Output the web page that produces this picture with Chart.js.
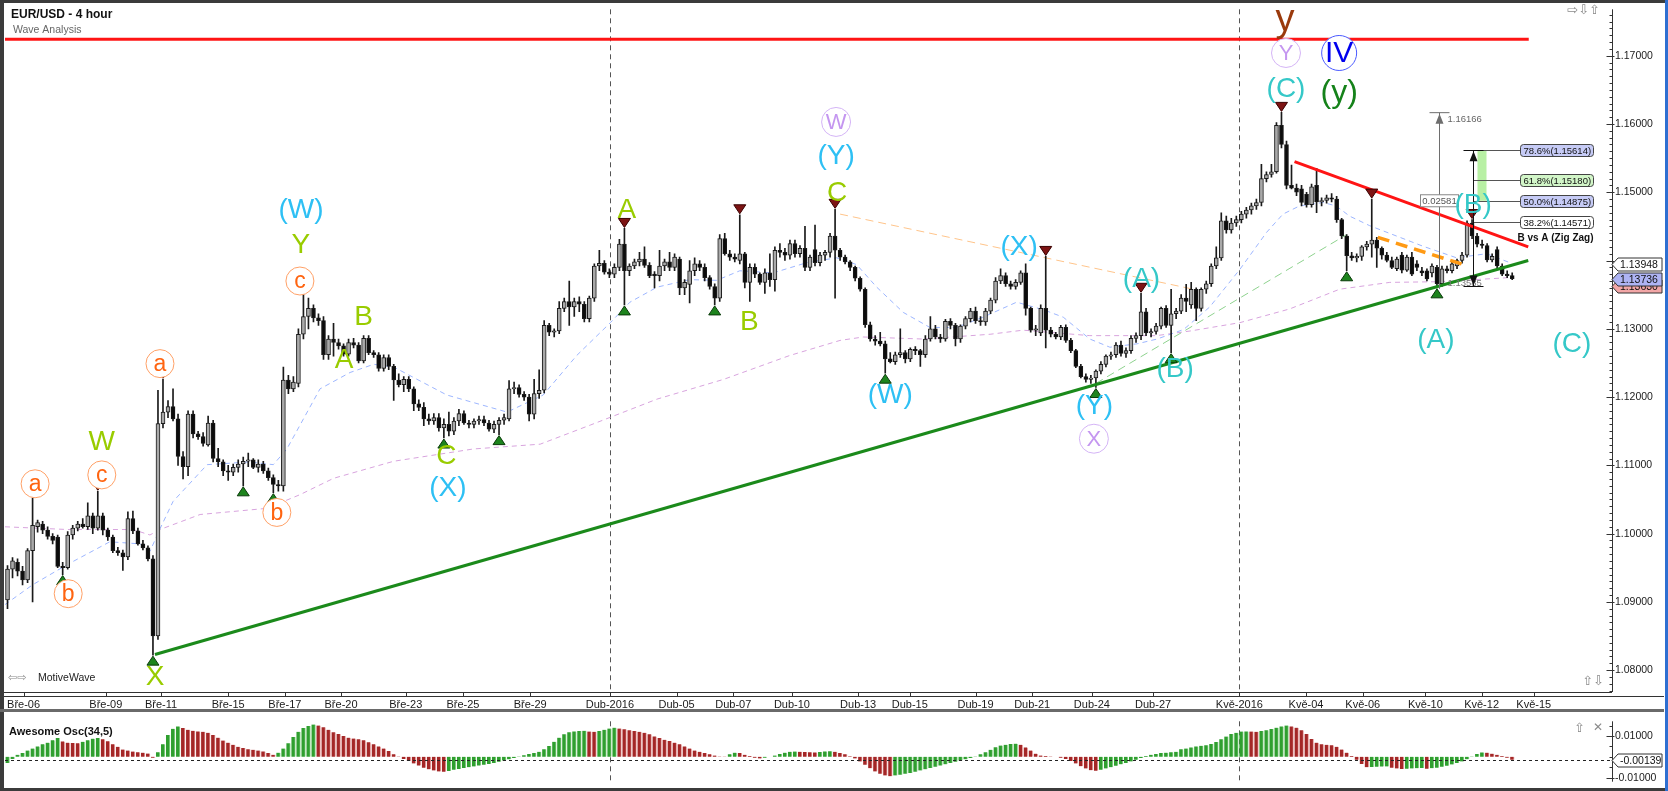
<!DOCTYPE html>
<html>
<head>
<meta charset="utf-8">
<title>EUR/USD - 4 hour</title>
<script src="https://cdn.jsdelivr.net/npm/chart.js@4.4.1/dist/chart.umd.min.js"></script>
<style>
  html, body { margin: 0; padding: 0; background: #fff; }
  #frame { position: relative; width: 1668px; height: 791px; overflow: hidden; background: #fff; }
  canvas { position: absolute; left: 0; }
  #main { top: 0; }
  #osc { top: 712px; }
  .edge { position: absolute; }
</style>
</head>
<body>
<div id="frame">
  <canvas id="main" width="1664" height="712"></canvas>
  <canvas id="osc" width="1664" height="79"></canvas>
  <div class="edge" style="left:0;top:0;width:1668px;height:3px;background:#3b3b3b"></div>
  <div class="edge" style="left:0;top:0;width:4px;height:791px;background:#3b3b3b"></div>
  <div class="edge" style="left:0;top:788px;width:1668px;height:3px;background:#3b3b3b"></div>
  <div class="edge" style="left:1665px;top:0;width:3px;height:791px;background:#2e6fd1"></div>
  <div class="edge" style="left:0;top:709px;width:1664px;height:3px;background:#6a6a6a"></div>
</div>
<script>
const FONT = '"Liberation Sans", Arial, sans-serif'
Chart.defaults.font.family = FONT
Chart.defaults.animation = false
Chart.defaults.events = []

// ---------- axis labels

const dateLabels = ['Bře-06', 'Bře-09', 'Bře-11', 'Bře-15', 'Bře-17', 'Bře-20', 'Bře-23', 'Bře-25', 'Bře-29',
  'Dub-2016', 'Dub-05', 'Dub-07', 'Dub-10', 'Dub-13', 'Dub-15', 'Dub-19', 'Dub-21', 'Dub-24', 'Dub-27',
  'Kvě-2016', 'Kvě-04', 'Kvě-06', 'Kvě-10', 'Kvě-12', 'Kvě-15']
// bar index where each label sits (4h bars)
const dateIdx = [3.2, 19.6, 30.6, 44.0, 55.3, 66.5, 79.4, 90.8, 104.2,
  120.1, 133.4, 144.7, 156.4, 169.6, 179.9, 193.0, 204.3, 216.2, 228.4,
  245.6, 258.9, 270.2, 282.7, 293.9, 304.3]
// 1.14000 sits under the value tags, so it is not listed
const priceTicks = [1.08, 1.09, 1.10, 1.11, 1.12, 1.13, 1.15, 1.16, 1.17]
const aoTicks = [-0.01, 0.01]

// ---------- candles [open, high, low, close]

const ohlc = [
  // 0
  [1.0903,1.0953,1.0890,1.0948],[1.0948,1.0965,1.0935,1.0960],[1.0958,1.0963,1.0938,1.0945],[1.0945,1.0952,1.0925,1.0932],[1.0932,1.0978,1.0928,1.0975],
  [1.0975,1.1052,1.0900,1.1012],[1.1010,1.1020,1.1002,1.1016],[1.1014,1.1018,1.1000,1.1005],[1.1005,1.1010,1.0992,1.0996],[1.0996,1.1000,1.0985,1.0990],
  // 10
  [1.0995,1.0998,1.0950,1.0952],[1.0952,1.0958,1.0940,1.0950],[1.0950,1.1003,1.0948,1.0998],[1.0998,1.1012,1.0992,1.1008],[1.1008,1.1018,1.1004,1.1014],
  [1.1014,1.1022,1.1008,1.1010],[1.1010,1.1045,1.1006,1.1026],[1.1026,1.1030,1.1000,1.1008],[1.1008,1.1062,1.1005,1.1026],[1.1026,1.1030,1.0998,1.1005],
  // 20
  [1.1005,1.1008,1.0990,1.0995],[1.0995,1.0998,1.0972,1.0975],[1.0975,1.0980,1.0968,1.0972],[1.0972,1.0976,1.0946,1.0966],[1.0966,1.1032,1.0962,1.1022],
  [1.1022,1.1033,1.1000,1.1004],[1.1004,1.1008,1.0983,1.0985],[1.0985,1.0990,1.0976,1.0979],[1.0979,1.0982,1.0960,1.0963],[1.0963,1.0968,1.0822,1.0850],
  // 30
  [1.0850,1.1210,1.0845,1.1161],[1.1161,1.1226,1.1155,1.1178],[1.1178,1.1195,1.1170,1.1186],[1.1186,1.1212,1.1165,1.1168],[1.1168,1.1175,1.1100,1.1113],
  [1.1113,1.1120,1.1080,1.1098],[1.1098,1.1180,1.1085,1.1175],[1.1175,1.1180,1.1140,1.1146],[1.1146,1.1150,1.1138,1.1142],[1.1142,1.1148,1.1128,1.1132],
  // 40
  [1.1130,1.1172,1.1128,1.1162],[1.1162,1.1166,1.1105,1.1110],[1.1110,1.1125,1.1098,1.1105],[1.1105,1.1108,1.1085,1.1092],[1.1092,1.1100,1.1078,1.1090],
  [1.1090,1.1102,1.1085,1.1097],[1.1097,1.1108,1.1090,1.1102],[1.1102,1.1112,1.1070,1.1106],[1.1106,1.1118,1.1098,1.1108],[1.1108,1.1110,1.1095,1.1097],
  // 50
  [1.1097,1.1108,1.1090,1.1102],[1.1102,1.1106,1.1088,1.1092],[1.1092,1.1096,1.1078,1.1082],[1.1082,1.1086,1.1060,1.1072],[1.1072,1.1078,1.1062,1.1070],
  [1.1070,1.1244,1.1062,1.1225],[1.1225,1.1232,1.1205,1.1212],[1.1212,1.1230,1.1208,1.1222],[1.1220,1.1300,1.1215,1.1292],[1.1292,1.1356,1.1285,1.1318],
  // 60
  [1.1318,1.1345,1.1300,1.1330],[1.1330,1.1335,1.1310,1.1316],[1.1316,1.1322,1.1305,1.1312],[1.1312,1.1318,1.1255,1.1262],[1.1262,1.1290,1.1255,1.1285],
  [1.1285,1.1308,1.1260,1.1280],[1.1280,1.1285,1.1270,1.1275],[1.1275,1.1278,1.1260,1.1263],[1.1263,1.1285,1.1260,1.1280],[1.1280,1.1286,1.1272,1.1276],
  // 70
  [1.1276,1.1280,1.1250,1.1253],[1.1253,1.1290,1.1250,1.1286],[1.1286,1.1290,1.1262,1.1265],[1.1265,1.1268,1.1258,1.1262],[1.1262,1.1265,1.1238,1.1242],
  [1.1242,1.1262,1.1238,1.1258],[1.1258,1.1262,1.1240,1.1245],[1.1245,1.1248,1.1195,1.1225],[1.1225,1.1234,1.1215,1.1218],[1.1218,1.1230,1.1208,1.1226],
  // 80
  [1.1226,1.1230,1.1208,1.1212],[1.1212,1.1215,1.1180,1.1190],[1.1190,1.1196,1.1180,1.1185],[1.1185,1.1192,1.1158,1.1168],[1.1168,1.1175,1.1160,1.1165],
  [1.1165,1.1176,1.1160,1.1170],[1.1170,1.1176,1.1150,1.1155],[1.1155,1.1168,1.1140,1.1160],[1.1160,1.1178,1.1143,1.1150],[1.1150,1.1170,1.1145,1.1165],
  // 90
  [1.1165,1.1182,1.1158,1.1176],[1.1176,1.1180,1.1160,1.1162],[1.1162,1.1166,1.1155,1.1160],[1.1160,1.1168,1.1155,1.1165],[1.1165,1.1172,1.1160,1.1167],
  [1.1167,1.1172,1.1158,1.1162],[1.1162,1.1166,1.1150,1.1153],[1.1153,1.1165,1.1148,1.1160],[1.1160,1.1170,1.1145,1.1166],[1.1166,1.1175,1.1160,1.1170],
  // 100
  [1.1168,1.1224,1.1165,1.1212],[1.1212,1.1222,1.1205,1.1214],[1.1214,1.1218,1.1200,1.1204],[1.1204,1.1208,1.1195,1.1200],[1.1200,1.1204,1.1165,1.1175],
  [1.1175,1.1226,1.1168,1.1205],[1.1205,1.1240,1.1198,1.1210],[1.1210,1.1312,1.1206,1.1305],[1.1305,1.1308,1.1290,1.1295],[1.1295,1.1300,1.1288,1.1297],
  // 110
  [1.1297,1.1340,1.1293,1.1330],[1.1330,1.1345,1.1325,1.1340],[1.1340,1.1370,1.1305,1.1332],[1.1332,1.1345,1.1318,1.1340],[1.1340,1.1347,1.1325,1.1336],
  [1.1336,1.1340,1.1310,1.1315],[1.1315,1.1348,1.1310,1.1345],[1.1345,1.1395,1.1340,1.1392],[1.1392,1.1415,1.1385,1.1396],[1.1396,1.1400,1.1380,1.1383],
  // 120
  [1.1383,1.1388,1.1375,1.1380],[1.1380,1.1395,1.1375,1.1390],[1.1390,1.1431,1.1385,1.1424],[1.1424,1.1447,1.1335,1.1385],[1.1385,1.1395,1.1378,1.1392],
  [1.1392,1.1402,1.1388,1.1398],[1.1398,1.1412,1.1392,1.1402],[1.1402,1.1420,1.1390,1.1393],[1.1393,1.1397,1.1375,1.1378],[1.1380,1.1384,1.1360,1.1378],
  // 130
  [1.1378,1.1415,1.1370,1.1392],[1.1392,1.1402,1.1385,1.1398],[1.1398,1.1412,1.1385,1.1390],[1.1390,1.1410,1.1385,1.1405],[1.1402,1.1405,1.1350,1.1360],
  [1.1360,1.1372,1.1350,1.1368],[1.1365,1.1400,1.1338,1.1385],[1.1385,1.1404,1.1378,1.1395],[1.1395,1.1400,1.1385,1.1390],[1.1390,1.1395,1.1370,1.1375],
  // 140
  [1.1375,1.1378,1.1358,1.1362],[1.1362,1.1366,1.1335,1.1345],[1.1345,1.1438,1.1340,1.1432],[1.1432,1.1440,1.1408,1.1410],[1.1410,1.1415,1.1400,1.1405],
  [1.1405,1.1410,1.1398,1.1402],[1.1400,1.1467,1.1395,1.1410],[1.1410,1.1412,1.1360,1.1368],[1.1368,1.1395,1.1340,1.1390],[1.1390,1.1395,1.1375,1.1380],
  // 150
  [1.1380,1.1382,1.1365,1.1368],[1.1368,1.1388,1.1352,1.1382],[1.1382,1.1410,1.1362,1.1372],[1.1372,1.1420,1.1355,1.1415],[1.1415,1.1425,1.1405,1.1412],
  [1.1412,1.1418,1.1400,1.1408],[1.1408,1.1430,1.1402,1.1425],[1.1425,1.1430,1.1405,1.1410],[1.1410,1.1422,1.1405,1.1418],[1.1418,1.1450,1.1385,1.1390],
  // 160
  [1.1390,1.1408,1.1385,1.1405],[1.1416,1.1452,1.1392,1.1397],[1.1397,1.1412,1.1392,1.1408],[1.1408,1.1415,1.1400,1.1412],[1.1412,1.1440,1.1405,1.1436],
  [1.1436,1.1475,1.1345,1.1415],[1.1415,1.1418,1.1400,1.1405],[1.1405,1.1408,1.1395,1.1398],[1.1398,1.1400,1.1385,1.1390],[1.1390,1.1392,1.1370,1.1374],
  // 170
  [1.1374,1.1376,1.1355,1.1358],[1.1358,1.1360,1.1302,1.1306],[1.1306,1.1310,1.1282,1.1285],[1.1285,1.1290,1.1276,1.1282],[1.1282,1.1295,1.1275,1.1278],
  [1.1278,1.1282,1.1235,1.1256],[1.1256,1.1265,1.1250,1.1252],[1.1252,1.1266,1.1248,1.1262],[1.1262,1.1300,1.1258,1.1265],[1.1265,1.1268,1.1250,1.1256],
  // 180
  [1.1256,1.1272,1.1252,1.1270],[1.1270,1.1274,1.1262,1.1268],[1.1268,1.1270,1.1245,1.1262],[1.1262,1.1290,1.1258,1.1285],[1.1285,1.1318,1.1282,1.1300],
  [1.1300,1.1305,1.1285,1.1288],[1.1288,1.1292,1.1280,1.1285],[1.1285,1.1314,1.1282,1.1311],[1.1311,1.1315,1.1300,1.1305],[1.1305,1.1308,1.1275,1.1285],
  // 190
  [1.1285,1.1306,1.1280,1.1304],[1.1304,1.1318,1.1300,1.1315],[1.1315,1.1330,1.1310,1.1326],[1.1326,1.1332,1.1308,1.1312],[1.1312,1.1318,1.1305,1.1310],
  [1.1310,1.1330,1.1305,1.1326],[1.1326,1.1345,1.1322,1.1342],[1.1342,1.1375,1.1338,1.1370],[1.1370,1.1388,1.1366,1.1378],[1.1378,1.1382,1.1362,1.1366],
  // 200
  [1.1366,1.1370,1.1358,1.1362],[1.1362,1.1372,1.1358,1.1368],[1.1368,1.1385,1.1365,1.1382],[1.1382,1.1395,1.1320,1.1330],[1.1330,1.1332,1.1295,1.1298],
  [1.1298,1.1305,1.1290,1.1300],[1.1294,1.1335,1.1290,1.1330],[1.1330,1.1406,1.1272,1.1298],[1.1298,1.1302,1.1288,1.1292],[1.1292,1.1295,1.1285,1.1288],
  // 210
  [1.1288,1.1305,1.1284,1.1302],[1.1302,1.1306,1.1280,1.1283],[1.1283,1.1286,1.1265,1.1268],[1.1268,1.1270,1.1243,1.1245],[1.1245,1.1248,1.1228,1.1230],
  [1.1230,1.1234,1.1222,1.1226],[1.1226,1.1232,1.1220,1.1228],[1.1228,1.1240,1.1214,1.1238],[1.1238,1.1252,1.1234,1.1248],[1.1248,1.1262,1.1244,1.1260],
  // 220
  [1.1260,1.1266,1.1255,1.1262],[1.1262,1.1280,1.1258,1.1276],[1.1276,1.1282,1.1260,1.1264],[1.1264,1.1272,1.1258,1.1268],[1.1268,1.1290,1.1264,1.1286],
  [1.1286,1.1294,1.1280,1.1290],[1.1290,1.1352,1.1284,1.1325],[1.1325,1.1330,1.1290,1.1294],[1.1294,1.1300,1.1288,1.1296],[1.1296,1.1308,1.1292,1.1304],
  // 230
  [1.1304,1.1332,1.1300,1.1330],[1.1330,1.1334,1.1302,1.1305],[1.1305,1.1358,1.1265,1.1322],[1.1322,1.1330,1.1315,1.1326],[1.1326,1.1350,1.1322,1.1345],
  [1.1345,1.1365,1.1325,1.1340],[1.1335,1.1368,1.1330,1.1358],[1.1358,1.1360,1.1312,1.1330],[1.1330,1.1360,1.1326,1.1358],[1.1358,1.1370,1.1352,1.1366],
  // 240
  [1.1366,1.1395,1.1362,1.1392],[1.1392,1.1420,1.1388,1.1404],[1.1404,1.1470,1.1400,1.1458],[1.1458,1.1465,1.1440,1.1445],[1.1445,1.1462,1.1440,1.1455],
  [1.1455,1.1465,1.1450,1.1460],[1.1460,1.1472,1.1455,1.1468],[1.1468,1.1478,1.1462,1.1474],[1.1474,1.1484,1.1468,1.1480],[1.1480,1.1490,1.1475,1.1485],
  // 250
  [1.1485,1.1541,1.1480,1.1520],[1.1520,1.1530,1.1515,1.1526],[1.1526,1.1541,1.1522,1.1530],[1.1530,1.1602,1.1528,1.1598],[1.1598,1.1617,1.1565,1.1570],
  [1.1570,1.1575,1.1505,1.1510],[1.1510,1.1540,1.1505,1.1506],[1.1506,1.1512,1.1495,1.1500],[1.1505,1.1510,1.1480,1.1485],[1.1497,1.1500,1.1478,1.1482],
  // 260
  [1.1482,1.1512,1.1478,1.1508],[1.1510,1.1535,1.1470,1.1486],[1.1486,1.1492,1.1480,1.1488],[1.1488,1.1496,1.1484,1.1492],[1.1492,1.1498,1.1486,1.1490],
  [1.1490,1.1494,1.1456,1.1460],[1.1460,1.1462,1.1432,1.1436],[1.1436,1.1438,1.1385,1.1407],[1.1407,1.1412,1.1400,1.1404],[1.1404,1.1410,1.1398,1.1406],
  // 270
  [1.1406,1.1422,1.1400,1.1420],[1.1420,1.1428,1.1415,1.1424],[1.1424,1.1490,1.1405,1.1430],[1.1430,1.1434,1.1390,1.1418],[1.1418,1.1420,1.1402,1.1408],
  [1.1408,1.1412,1.1398,1.1400],[1.1400,1.1405,1.1388,1.1390],[1.1388,1.1405,1.1385,1.1402],[1.1408,1.1412,1.1382,1.1386],[1.1386,1.1408,1.1384,1.1405],
  // 280
  [1.1405,1.1412,1.1378,1.1380],[1.1395,1.1400,1.1385,1.1390],[1.1385,1.1390,1.1378,1.1382],[1.1385,1.1388,1.1370,1.1373],[1.1382,1.1395,1.1376,1.1392],
  [1.1390,1.1393,1.1360,1.1366],[1.1366,1.1392,1.1362,1.1388],[1.1388,1.1392,1.1382,1.1385],[1.1385,1.1398,1.1382,1.1395],[1.1392,1.1402,1.1388,1.1400],
  // 290
  [1.1400,1.1412,1.1396,1.1408],[1.1408,1.1458,1.1405,1.1455],[1.1455,1.1460,1.1432,1.1436],[1.1436,1.1440,1.1420,1.1424],[1.1424,1.1430,1.1418,1.1422],
  [1.1422,1.1425,1.1398,1.1401],[1.1401,1.1410,1.1398,1.1406],[1.1416,1.1420,1.1388,1.1392],[1.1392,1.1395,1.1378,1.1380],[1.1380,1.1385,1.1375,1.1378],
  [1.1378,1.1382,1.1372,1.13736]
]

// Awesome Oscillator (34,5), one value per candle
const ao = [
  -0.0030, -0.0010, 0.0010, 0.0018, 0.0030, 0.0040, 0.0050, 0.0060, 0.0068, 0.0080,
  0.0090, 0.0074, 0.0068, 0.0066, 0.0065, 0.0072, 0.0080, 0.0087, 0.0090, 0.0084,
  0.0075, 0.0060, 0.0048, 0.0035, 0.0030, 0.0025, 0.0022, 0.0020, 0.0016, -0.0005,
  0.0022, 0.0060, 0.0105, 0.0135, 0.0146, 0.0138, 0.0130, 0.0125, 0.0122, 0.0120,
  0.0115, 0.0105, 0.0092, 0.0078, 0.0068, 0.0058, 0.0048, 0.0042, 0.0036, 0.0034,
  0.0030, 0.0026, 0.0018, 0.0010, 0.0020, 0.0040, 0.0065, 0.0095, 0.0120, 0.0138,
  0.0148, 0.0155, 0.0150, 0.0142, 0.0130, 0.0118, 0.0110, 0.0100, 0.0092, 0.0088,
  0.0084, 0.0080, 0.0070, 0.0060, 0.0050, 0.0040, 0.0028, 0.0012, 0.0002, -0.0010,
  -0.0020, -0.0032, -0.0042, -0.0052, -0.0060, -0.0066, -0.0070, -0.0072, -0.0068, -0.0062,
  -0.0058, -0.0054, -0.0050, -0.0046, -0.0042, -0.0038, -0.0034, -0.0030, -0.0024, -0.0018,
  -0.0012, -0.0006, 0.0002, 0.0008, 0.0014, 0.0018, 0.0024, 0.0036, 0.0052, 0.0072,
  0.0092, 0.0108, 0.0118, 0.0122, 0.0124, 0.0125, 0.0121, 0.0120, 0.0124, 0.0130,
  0.0136, 0.0140, 0.0136, 0.0132, 0.0128, 0.0124, 0.0120, 0.0115, 0.0108, 0.0098,
  0.0090, 0.0082, 0.0076, 0.0068, 0.0060, 0.0050, 0.0040, 0.0030, 0.0024, 0.0018,
  0.0012, 0.0006, 0.0002, 0.0001, 0.0012, 0.0020, 0.0018, 0.0010, 0.0004, -0.0004,
  -0.0008, -0.0005, 0.0000, 0.0006, 0.0014, 0.0020, 0.0024, 0.0025, 0.0024, 0.0023,
  0.0022, 0.0021, 0.0023, 0.0026, 0.0027, 0.0024, 0.0018, 0.0012, 0.0003, -0.0008,
  -0.0022, -0.0038, -0.0055, -0.0070, -0.0082, -0.0090, -0.0093, -0.0090, -0.0086, -0.0082,
  -0.0078, -0.0072, -0.0066, -0.0060, -0.0054, -0.0048, -0.0042, -0.0036, -0.0030, -0.0024,
  -0.0018, -0.0012, -0.0006, 0.0002, 0.0012, 0.0022, 0.0034, 0.0046, 0.0054, 0.0058,
  0.0061, 0.0063, 0.0058, 0.0045, 0.0030, 0.0015, 0.0006, 0.0004, 0.0002, 0.0000,
  -0.0004, -0.0010, -0.0020, -0.0032, -0.0045, -0.0056, -0.0064, -0.0067, -0.0062, -0.0056,
  -0.0050, -0.0043, -0.0036, -0.0030, -0.0022, -0.0014, -0.0006, 0.0004, 0.0010, 0.0014,
  0.0018, 0.0020, 0.0022, 0.0024, 0.0036, 0.0040, 0.0045, 0.0050, 0.0053, 0.0056,
  0.0061, 0.0071, 0.0084, 0.0097, 0.0109, 0.0115, 0.0121, 0.0122, 0.0121, 0.0120,
  0.0124, 0.0128, 0.0134, 0.0140, 0.0146, 0.0150, 0.0146, 0.0140, 0.0128, 0.0110,
  0.0085, 0.0068, 0.0060, 0.0058, 0.0055, 0.0048, 0.0035, 0.0020, 0.0004, -0.0014,
  -0.0035, -0.0050, -0.0049, -0.0048, -0.0047, -0.0046, -0.0052, -0.0056, -0.0058, -0.0057,
  -0.0056, -0.0055, -0.0054, -0.0057, -0.0055, -0.0052, -0.0048, -0.0043, -0.0037, -0.0030,
  -0.0022, -0.0012, 0.0002, 0.0014, 0.0021, 0.0020, 0.0015, 0.0010, 0.0004, -0.0004, -0.00139
]

// ---------- moving averages, read at points [bar, price]

const blueMA = [[-0.5,1.0896],[5,1.0925],[12,1.0955],[20.4,1.0988],[26.4,1.0985],[28.4,1.0974],[30.4,1.1007],[33,1.1047],
  [39.8,1.1101],[48.3,1.1105],[53,1.1101],[55.7,1.1124],[62.3,1.1212],[68.3,1.1236],[73,1.1248],[77,1.1244],[87.6,1.1203],
  [99.6,1.1178],[106.8,1.1203],[113.5,1.1261],[120.2,1.1309],[124.1,1.1339],[129.5,1.1361],[136,1.1372],[141.4,1.1371],
  [146,1.1385],[152.7,1.1382],[159.4,1.1397],[165.3,1.1404],[169.3,1.1394],[173.3,1.1361],[178.6,1.1324],[183.9,1.1302],
  [189.2,1.1302],[194.5,1.1317],[201.2,1.1339],[206.5,1.1328],[210.5,1.1317],[215.8,1.1285],[219.8,1.1273],[225.2,1.1278],
  [229.2,1.1285],[234.5,1.1299],[239.7,1.1332],[245.7,1.1387],[251,1.1441],[254.3,1.1468],[257.6,1.1480],[262.3,1.1485],
  [264.9,1.1480],[267.6,1.1465],[271.6,1.1451],[276.9,1.1436],[282.2,1.1421],[288.9,1.1404],[294.9,1.1410],[299.5,1.1397]]
const purpleMA = [[-0.5,1.1010],[12,1.1006],[25,1.1006],[28.4,1.0998],[30.4,1.1006],[38.4,1.1028],[51.7,1.1037],[58.3,1.1057],
  [65,1.1081],[77,1.1106],[92.9,1.1124],[106.2,1.1131],[116.2,1.1159],[129.5,1.1197],[142.8,1.1226],[156,1.1261],[166,1.1283],
  [170.6,1.1288],[182.6,1.1285],[195.9,1.1292],[202.5,1.1298],[215.8,1.1290],[229.1,1.1290],[236,1.1297],[245.7,1.1309],
  [255.6,1.1329],[265.6,1.1358],[275.6,1.1368],[285.5,1.1369],[299.5,1.1375]]

// ---------- drawn lines [bar, price]

const resistance = [[-0.5,1.1724],[303.3,1.1724]]
const supportLine = [[29.4,1.0823],[303.2,1.1400]]
const downTrend = [[256.6,1.1545],[303.2,1.1420]]
const channelThin = [[166,1.1468],[236.4,1.1358]]
const channelThick = [[273.2,1.1434],[289.9,1.1395]]
const riseDash = [[217,1.1220],[267,1.1438]]

// ---------- swing markers [bar, price]

const highMarks = [[5,1.1052],[18,1.1062],[31,1.1226],[59,1.1356],[123,1.1447],[146,1.1467],[165,1.1475],[207,1.1406],
  [226,1.1352],[254,1.1617],[272,1.1490],[292,1.1460]]
const lowMarks = [[11,1.0940],[29,1.0822],[47,1.1070],[53,1.1060],[87,1.1140],[98,1.1145],[123,1.1335],[141,1.1335],
  [175,1.1235],[217,1.1214],[232,1.1265],[267,1.1385],[285,1.1360]]

// ---------- wave labels [text, bar, price]

const subminuteLabels = [['a',5.5,1.1073],['b',12.1,1.0912],['c',18.8,1.1086],['a',30.4,1.1249],['b',53.7,1.1031],['c',58.3,1.1370]]
const minuteLabels = [['W',18.8,1.1134],['X',29.4,1.0790],['Y',58.5,1.1422],['A',67.1,1.1254],['B',71.0,1.1317],['C',87.5,1.1114],
  ['A',123.5,1.1474],['B',147.9,1.1309],['C',165.4,1.1498]]
const minorLabels = [['(W)',58.5,1.1474],['(X)',87.8,1.1066],['(Y)',165.2,1.1552],['(W)',176,1.1203],['(X)',201.7,1.1420],['(Y)',216.7,1.1187]]
const minorLabels2 = [['(A)',226.1,1.1372],['(B)',232.8,1.1240],['(C)',254.9,1.1651],['(A)',284.8,1.1283],['(B)',292.2,1.1481],['(C)',311.9,1.1277]]
const intermediateLabels = [['W',165.2,1.1603],['X',216.6,1.1139],['Y',254.9,1.1704]]
const primaryLabels = [['IV',265.5,1.1704]]
const cycleLabels = [['(y)',265.5,1.1645]]
const superLabels = [['y',254.7,1.1751]]

// ---------- fibonacci / measure tools

const fibLevels = [['78.6%',1.15614],['61.8%',1.15180],['50.0%',1.14875],['38.2%',1.14571]]
const rulerA = [285.4, 1.13585, 1.16166]   // bar, from, to
const rulerB = [292.1, 1.1362, 1.15614]
const axisTags = [[1.1363,'#f2a6a6'],[1.13948,'#ffffff'],[1.13736,'#aeb4f4']]

const X_MIN = -0.5
const X_MAX = 319.9
const P_MIN = 1.0768
const P_MAX = 1.1768
const AO_MIN = -0.01196
const AO_MAX = 0.01706

const sessionIdx = dateIdx.filter((v, k) => dateLabels[k].endsWith('2016'))

// ---------- drawing helpers

function txt(ctx, s, x, y, font, color, align = 'center', base = 'middle') {
  ctx.font = font
  ctx.fillStyle = color
  ctx.textAlign = align
  ctx.textBaseline = base
  ctx.fillText(s, x, y)
}

function seg(ctx, x1, y1, x2, y2) {
  ctx.beginPath()
  ctx.moveTo(x1, y1)
  ctx.lineTo(x2, y2)
  ctx.stroke()
}

function tri(ctx, cx, tipY, dir, fill, edge) {
  const baseY = tipY - dir * 9
  ctx.beginPath()
  ctx.moveTo(cx, tipY)
  ctx.lineTo(cx - 6, baseY)
  ctx.lineTo(cx + 6, baseY)
  ctx.closePath()
  ctx.fillStyle = fill
  ctx.fill()
  ctx.strokeStyle = edge
  ctx.lineWidth = 1
  ctx.stroke()
}

function arrow(ctx, cx, tipY, dir, color) {
  ctx.beginPath()
  ctx.moveTo(cx, tipY)
  ctx.lineTo(cx - 4, tipY + dir * 10)
  ctx.lineTo(cx + 4, tipY + dir * 10)
  ctx.closePath()
  ctx.fillStyle = color
  ctx.fill()
}

function ringLabel(ctx, s, cx, cy, r, ring, color, font) {
  ctx.beginPath()
  ctx.arc(cx, cy, r, 0, Math.PI * 2)
  ctx.fillStyle = '#fff'
  ctx.fill()
  ctx.strokeStyle = ring
  ctx.lineWidth = 1
  ctx.stroke()
  txt(ctx, s, cx, cy + 1, font, color)
}

function axisTag(ctx, left, yc, s, fill) {
  ctx.beginPath()
  ctx.moveTo(left, yc)
  ctx.lineTo(left + 6, yc - 6.5)
  ctx.lineTo(left + 50, yc - 6.5)
  ctx.lineTo(left + 50, yc + 6.5)
  ctx.lineTo(left + 6, yc + 6.5)
  ctx.closePath()
  ctx.fillStyle = fill
  ctx.fill()
  ctx.strokeStyle = '#333'
  ctx.lineWidth = 1
  ctx.stroke()
  txt(ctx, s, left + 8, yc + 0.5, `10.5px ${FONT}`, '#111', 'left')
}

// ---------- main chart decorations

const mainDecor = {
  id: 'mainDecor',

  beforeDatasetsDraw(chart) {
    const { ctx, chartArea: a, scales: { x } } = chart
    ctx.save()
    ctx.strokeStyle = '#555'
    ctx.lineWidth = 1
    ctx.setLineDash([5, 4])
    for (const v of sessionIdx) {
      const px = Math.round(x.getPixelForValue(v)) + 0.5
      seg(ctx, px, a.top, px, a.bottom)
    }
    ctx.restore()
  },

  afterDatasetsDraw(chart) {
    const { ctx, chartArea: a, scales: { x, y } } = chart
    const X = v => x.getPixelForValue(v)
    const Y = v => y.getPixelForValue(v)
    ctx.save()
    ctx.beginPath()
    ctx.rect(a.left, a.top, a.right - a.left, a.bottom - a.top)
    ctx.clip()

    // swing markers
    highMarks.forEach(([i, p]) => tri(ctx, X(i), Y(p) - 1, 1, '#7d1414', '#3a0000'))
    lowMarks.forEach(([i, p]) => tri(ctx, X(i), Y(p) + 1, -1, '#1d841d', '#0a3a0a'))

    // measure tool A (grey)
    const [ai, aLo, aHi] = rulerA
    const gx = Math.round(X(ai)) + 0.5
    ctx.strokeStyle = '#6e6e6e'
    ctx.lineWidth = 1
    seg(ctx, gx, Y(aLo), gx, Y(aHi))
    seg(ctx, gx - 10, Y(aHi), gx + 10, Y(aHi))
    arrow(ctx, gx, Y(aHi) + 1, 1, '#6e6e6e')
    txt(ctx, aHi.toFixed(5), gx + 8, Y(aHi) + 7, `9.5px ${FONT}`, '#666', 'left')
    txt(ctx, aLo.toFixed(5), gx + 8, Y(aLo) - 5, `9.5px ${FONT}`, '#777', 'left')
    const boxY = Y((aLo + aHi) / 2)
    ctx.fillStyle = '#fff'
    ctx.fillRect(gx - 19, boxY - 6, 38, 12)
    ctx.strokeStyle = '#888'
    ctx.strokeRect(gx - 19, boxY - 6, 38, 12)
    txt(ctx, (aHi - aLo).toFixed(5), gx, boxY + 0.5, `9.5px ${FONT}`, '#555')

    // fib zone and levels
    const [bi, bLo, bHi] = rulerB
    const bx = Math.round(X(bi)) + 0.5
    ctx.fillStyle = '#b8f0a4'
    ctx.fillRect(bx + 4, Y(fibLevels[0][1]), 9, Y(fibLevels[2][1]) - Y(fibLevels[0][1]))
    const boxFill = { '78.6%': '#c6cbf6', '61.8%': '#d2f6c8', '50.0%': '#c6cbf6', '38.2%': '#ffffff' }
    for (const [pct, lvl] of fibLevels) {
      const ly = Math.round(Y(lvl)) + 0.5
      ctx.strokeStyle = '#555'
      seg(ctx, bx, ly, bx + 47, ly)
      ctx.beginPath()
      ctx.roundRect(bx + 47, ly - 6, 73, 12, 3)
      ctx.fillStyle = boxFill[pct]
      ctx.fill()
      ctx.strokeStyle = '#444'
      ctx.stroke()
      txt(ctx, `${pct}(${lvl.toFixed(5)})`, bx + 50, ly + 0.5, `9.5px ${FONT}`, '#111', 'left')
    }
    txt(ctx, 'B vs A (Zig Zag)', bx + 120, Y(fibLevels[3][1]) + 17, `bold 10px ${FONT}`, '#111', 'right')

    // measure tool B (black)
    ctx.strokeStyle = '#111'
    seg(ctx, bx, Y(bLo), bx, Y(bHi))
    seg(ctx, bx - 10, Math.round(Y(bHi)) + 0.5, bx + 10, Math.round(Y(bHi)) + 0.5)
    seg(ctx, bx - 10, Math.round(Y(bLo)) + 0.5, bx + 10, Math.round(Y(bLo)) + 0.5)
    arrow(ctx, bx, Y(bHi) + 1, 1, '#111')
    arrow(ctx, bx, Y(bLo) - 1, -1, '#111')

    // wave labels
    const f = (s, w) => `${w || ''} ${s}px ${FONT}`
    subminuteLabels.forEach(([s, i, p]) => ringLabel(ctx, s, X(i), Y(p), 14, '#ffa066', '#ff6410', f(23)))
    minuteLabels.forEach(([s, i, p]) => txt(ctx, s, X(i), Y(p), f(28), '#99cc00'))
    minorLabels.forEach(([s, i, p]) => txt(ctx, s, X(i), Y(p), f(28), '#2ec0f4'))
    minorLabels2.forEach(([s, i, p]) => txt(ctx, s, X(i), Y(p), f(28), '#35c8c8'))
    intermediateLabels.forEach(([s, i, p]) => ringLabel(ctx, s, X(i), Y(p), 14.5, '#d4b4f6', '#c496f0', f(22)))
    primaryLabels.forEach(([s, i, p]) => ringLabel(ctx, s, X(i), Y(p), 17.5, '#4a5aff', '#0000ee', f(30)))
    cycleLabels.forEach(([s, i, p]) => txt(ctx, s, X(i), Y(p), f(32), '#15821a'))
    superLabels.forEach(([s, i, p]) => txt(ctx, s, X(i), Y(p), f(38), '#9a3a0c'))
    ctx.restore()
  },

  afterDraw(chart) {
    const { ctx, chartArea: a, scales: { x, y } } = chart
    ctx.save()
    ctx.strokeStyle = '#333'
    ctx.lineWidth = 1

    // price axis line and ticks
    const ax = a.right + 0.5
    seg(ctx, ax, a.top, ax, a.bottom)
    for (let k = Math.ceil(P_MIN * 1000); k <= Math.floor(P_MAX * 1000); k++) {
      const ty = Math.round(y.getPixelForValue(k / 1000)) + 0.5
      if (k % 10 === 0) seg(ctx, ax - 6, ty, ax + 2, ty)
      else seg(ctx, ax - 3, ty, ax, ty)
    }

    // time axis lines and ticks
    seg(ctx, 0, a.bottom + 0.5, a.right, a.bottom + 0.5)
    seg(ctx, 0, a.bottom + 4.5, a.right + 52, a.bottom + 4.5)
    for (const v of dateIdx) {
      const tx = Math.round(x.getPixelForValue(v)) + 0.5
      seg(ctx, tx, a.bottom, tx, a.bottom + 5)
    }

    // current value tags on the price axis
    axisTags.forEach(([p, fill]) => axisTag(ctx, a.right, Math.round(y.getPixelForValue(p)) + 0.5, p.toFixed(5), fill))

    // titles and small controls
    txt(ctx, 'EUR/USD - 4 hour', 11, 15, `bold 12px ${FONT}`, '#111', 'left')
    txt(ctx, 'Wave Analysis', 13, 30, `10.5px ${FONT}`, '#666', 'left')
    txt(ctx, '⇨⇩⇧', 1600, 11, `13px "DejaVu Sans", ${FONT}`, '#8a8a8a', 'right')
    txt(ctx, '⇧⇩', 1604, a.bottom - 10, `13px "DejaVu Sans", ${FONT}`, '#8a8a8a', 'right')
    txt(ctx, '⇦⇨', 8, a.bottom - 14, `11px "DejaVu Sans", ${FONT}`, '#8a8a8a', 'left')
    txt(ctx, 'MotiveWave', 38, a.bottom - 14, `10.5px ${FONT}`, '#222', 'left')
    ctx.restore()
  }
}

// ---------- main chart

const pts = arr => arr.map(([x, y]) => ({ x, y }))
const lineSet = (data, color, width, dash, order) => ({
  type: 'line', data: pts(data), borderColor: color, borderWidth: width, borderDash: dash,
  pointRadius: 0, tension: 0, fill: false, order
})

const wicks = ohlc.map((c, i) => ({ x: i, y: [c[2], c[1]] }))
const bodies = ohlc.map((c, i) => ({ x: i, y: [Math.min(c[0], c[3]), Math.max(c[0], c[3])] }))
const bodyFill = ohlc.map(c => c[3] >= c[0] ? '#a9a9a9' : '#0c0c0c')

new Chart(document.getElementById('main'), {
  type: 'bar',
  data: {
    datasets: [
      lineSet(purpleMA, '#d8a4de', 1, [5, 4], 20),
      lineSet(blueMA, '#9db6ff', 1, [5, 4], 19),
      lineSet(riseDash, '#8ed28e', 1, [8, 5], 18),
      lineSet(channelThin, '#ffc48a', 1, [8, 5], 17),
      { data: wicks, backgroundColor: '#1a1a1a', barThickness: 1, grouped: false, order: 10 },
      { data: bodies, backgroundColor: bodyFill, borderColor: '#1a1a1a', borderWidth: 1, borderSkipped: false,
        barThickness: 4, minBarLength: 1, grouped: false, order: 9 },
      lineSet(resistance, '#ff1414', 3, [], 3),
      lineSet(supportLine, '#1b8a1b', 3, [], 3),
      lineSet(downTrend, '#ff1414', 3, [], 3),
      lineSet(channelThick, '#ff9a14', 3.5, [12, 7], 2)
    ]
  },
  options: {
    responsive: false,
    layout: { padding: { left: 5, top: 4, right: 0, bottom: 0 } },
    plugins: { legend: { display: false }, tooltip: { enabled: false } },
    scales: {
      x: {
        type: 'linear', min: X_MIN, max: X_MAX, offset: false,
        grid: { display: false, drawTicks: false, offset: false }, border: { display: false },
        afterBuildTicks: s => { s.ticks = dateIdx.map(value => ({ value })) },
        afterFit: s => { s.height = 20 },
        ticks: { autoSkip: false, maxRotation: 0, padding: 6, color: '#1a1a1a', font: { size: 11 },
          callback: (v, k) => dateLabels[k] }
      },
      y: {
        type: 'linear', position: 'right', min: P_MIN, max: P_MAX,
        grid: { display: false, drawTicks: false }, border: { display: false },
        afterBuildTicks: s => { s.ticks = priceTicks.map(value => ({ value })) },
        afterFit: s => { s.width = 52 },
        ticks: { padding: 3, color: '#1a1a1a', font: { size: 10.5 }, callback: v => v.toFixed(5) }
      }
    }
  },
  plugins: [mainDecor]
})

// ---------- oscillator

const aoUp = ao.map((v, i) => i === 0 || v >= ao[i - 1])

const oscDecor = {
  id: 'oscDecor',
  beforeDatasetsDraw(chart) {
    const { ctx, chartArea: a, scales: { x } } = chart
    ctx.save()
    ctx.strokeStyle = '#555'
    ctx.lineWidth = 1
    ctx.setLineDash([5, 4])
    for (const v of sessionIdx) {
      const px = Math.round(x.getPixelForValue(v)) + 0.5
      seg(ctx, px, a.top, px, a.bottom)
    }
    ctx.restore()
  },
  afterDraw(chart) {
    const { ctx, chartArea: a, scales: { y } } = chart
    const last = ao[ao.length - 1]
    const ly = Math.round(y.getPixelForValue(last)) + 0.5
    ctx.save()
    ctx.strokeStyle = '#222'
    ctx.lineWidth = 1
    ctx.setLineDash([3, 3])
    seg(ctx, a.left, ly, a.right, ly)
    ctx.setLineDash([])
    ctx.strokeStyle = '#333'
    const ax = a.right + 0.5
    seg(ctx, ax, a.top, ax, a.bottom)
    for (let k = -2; k <= 3; k++) {
      const ty = Math.round(y.getPixelForValue(k * 0.005)) + 0.5
      if (k % 2 === 0 && k !== 0) seg(ctx, ax - 6, ty, ax + 2, ty)
      else seg(ctx, ax - 3, ty, ax, ty)
    }
    axisTag(ctx, a.right, ly, last.toFixed(5), '#ffffff')
    txt(ctx, 'Awesome Osc(34,5)', 9, a.top + 11, `bold 11px ${FONT}`, '#111', 'left')
    txt(ctx, '⇧', 1585, a.top + 7, `13px "DejaVu Sans", ${FONT}`, '#8a8a8a', 'right')
    txt(ctx, '✕', 1603, a.top + 7, `12px "DejaVu Sans", ${FONT}`, '#8a8a8a', 'right')
    ctx.restore()
  }
}

new Chart(document.getElementById('osc'), {
  type: 'bar',
  data: {
    datasets: [{
      data: ao.map((v, i) => ({ x: i, y: v })),
      backgroundColor: aoUp.map(u => u ? '#2f9f2f' : '#a42727'),
      borderColor: aoUp.map(u => u ? '#9ad89a' : '#e8a4a4'),
      borderWidth: { left: 0, top: 0, bottom: 0, right: 1 },
      borderSkipped: false,
      barThickness: 4
    }]
  },
  options: {
    responsive: false,
    layout: { padding: { left: 5, top: 1, right: 0, bottom: 4 } },
    plugins: { legend: { display: false }, tooltip: { enabled: false } },
    scales: {
      x: { type: 'linear', min: X_MIN, max: X_MAX, offset: false, display: false },
      y: {
        type: 'linear', position: 'right', min: AO_MIN, max: AO_MAX,
        grid: { display: false, drawTicks: false }, border: { display: false },
        afterBuildTicks: s => { s.ticks = aoTicks.map(value => ({ value })) },
        afterFit: s => { s.width = 52 },
        ticks: { padding: 3, color: '#1a1a1a', font: { size: 10.5 }, callback: v => v.toFixed(5) }
      }
    }
  },
  plugins: [oscDecor]
})
</script>
</body>
</html>
